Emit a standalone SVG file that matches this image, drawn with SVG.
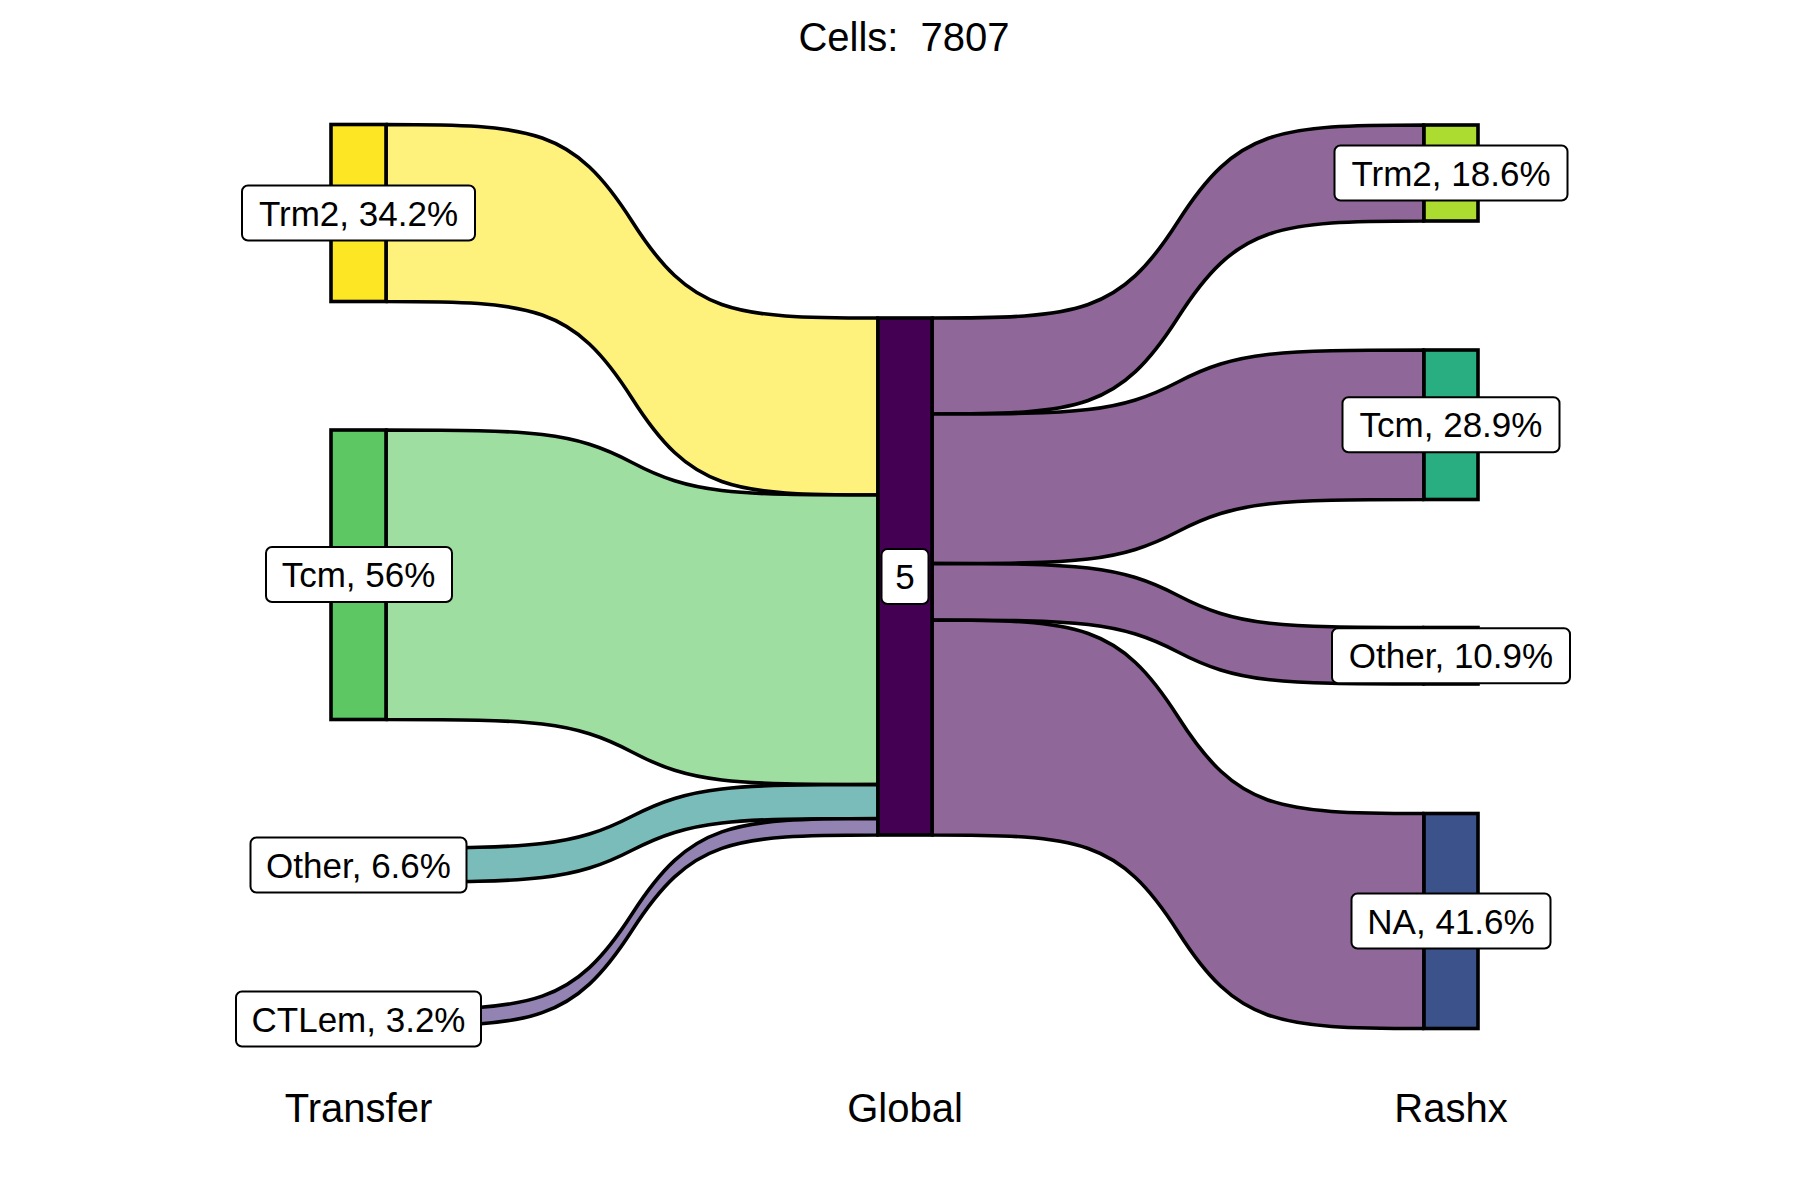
<svg xmlns="http://www.w3.org/2000/svg" width="1800" height="1200" viewBox="0 0 1800 1200">
<style>
text{font-family:"Liberation Sans",Arial,sans-serif;fill:#000}
.title{font-size:40px;text-anchor:middle;white-space:pre}
.axis{font-size:40px;text-anchor:middle}
.flow{stroke:#000;stroke-width:3.6;stroke-linejoin:round}
.node{stroke:#000;stroke-width:3.6}
.lbox{fill:#fff;stroke:#000;stroke-width:2}
.ltxt{font-size:35px;text-anchor:middle}
</style>
<rect width="1800" height="1200" fill="#fff"/>
<text class="title" x="904" y="51" xml:space="preserve">Cells:  7807</text>
<g id="connectors">
<path class="flow" fill="#FEF17C" d="M386,124.5 C533.6,124.5 572.96,128.37 632,221.25 C691.04,314.13 730.4,318 878,318 L878,495 C730.4,495 691.04,491.13 632,398.25 C572.96,305.37 533.6,301.5 386,301.5 Z"/>
<path class="flow" fill="#9EDEA1" d="M386,430 C533.6,430 572.96,431.3 632,462.5 C691.04,493.7 730.4,495 878,495 L878,784.5 C730.4,784.5 691.04,783.2 632,752 C572.96,720.8 533.6,719.5 386,719.5 Z"/>
<path class="flow" fill="#7ABCBA" d="M386,848 C533.6,848 572.96,846.73 632,816.25 C691.04,785.77 730.4,784.5 878,784.5 L878,818.5 C730.4,818.5 691.04,819.77 632,850.25 C572.96,880.73 533.6,882 386,882 Z"/>
<path class="flow" fill="#9283B2" d="M386,1009.5 C533.6,1009.5 572.96,1005.68 632,914 C691.04,822.32 730.4,818.5 878,818.5 L878,835 C730.4,835 691.04,838.82 632,930.5 C572.96,1022.18 533.6,1026 386,1026 Z"/>
<path class="flow" fill="#8F6798" d="M932,318 C1079.6,318 1118.96,314.14 1178,221.5 C1237.04,128.86 1276.4,125 1424,125 L1424,221 C1276.4,221 1237.04,224.86 1178,317.5 C1118.96,410.14 1079.6,414 932,414 Z"/>
<path class="flow" fill="#8F6798" d="M932,414 C1079.6,414 1118.96,412.72 1178,382 C1237.04,351.28 1276.4,350 1424,350 L1424,499.5 C1276.4,499.5 1237.04,500.78 1178,531.5 C1118.96,562.22 1079.6,563.5 932,563.5 Z"/>
<path class="flow" fill="#8F6798" d="M932,563.5 C1079.6,563.5 1118.96,564.78 1178,595.5 C1237.04,626.22 1276.4,627.5 1424,627.5 L1424,684 C1276.4,684 1237.04,682.72 1178,652 C1118.96,621.28 1079.6,620 932,620 Z"/>
<path class="flow" fill="#8F6798" d="M932,620 C1079.6,620 1118.96,623.87 1178,716.75 C1237.04,809.63 1276.4,813.5 1424,813.5 L1424,1028.5 C1276.4,1028.5 1237.04,1024.63 1178,931.75 C1118.96,838.87 1079.6,835 932,835 Z"/>
</g>
<g id="transfer-trm2">
<rect class="node" x="331" y="124.5" width="55" height="177" fill="#FDE725"/>
<rect class="lbox" x="242" y="185.5" width="233" height="55" rx="6"/>
<text class="ltxt" x="358.5" y="225.5">Trm2, 34.2%</text>
</g>
<g id="transfer-tcm">
<rect class="node" x="331" y="430" width="55" height="289.5" fill="#5DC863"/>
<rect class="lbox" x="266" y="547" width="186" height="55" rx="6"/>
<text class="ltxt" x="358.5" y="587">Tcm, 56%</text>
</g>
<g id="transfer-other">
<rect class="node" x="331" y="848" width="55" height="34" fill="#21908C"/>
<rect class="lbox" x="250.5" y="837.5" width="216" height="55" rx="6"/>
<text class="ltxt" x="358.5" y="877.5">Other, 6.6%</text>
</g>
<g id="transfer-ctlem">
<rect class="node" x="331" y="1009.5" width="55" height="16.5" fill="#472D7B"/>
<rect class="lbox" x="236" y="991.5" width="245" height="55" rx="6"/>
<text class="ltxt" x="358.5" y="1031.5">CTLem, 3.2%</text>
</g>
<g id="global-5">
<rect class="node" x="878" y="318" width="54" height="517" fill="#440154"/>
<rect class="lbox" x="881.5" y="549" width="47" height="55" rx="6"/>
<text class="ltxt" x="905" y="589">5</text>
</g>
<g id="rashx-trm2">
<rect class="node" x="1424" y="125" width="54" height="96" fill="#ADDC30"/>
<rect class="lbox" x="1334.5" y="145.5" width="233" height="55" rx="6"/>
<text class="ltxt" x="1451" y="185.5">Trm2, 18.6%</text>
</g>
<g id="rashx-tcm">
<rect class="node" x="1424" y="350" width="54" height="149.5" fill="#28AE80"/>
<rect class="lbox" x="1342.5" y="397.25" width="217" height="55" rx="6"/>
<text class="ltxt" x="1451" y="437.25">Tcm, 28.9%</text>
</g>
<g id="rashx-other">
<rect class="node" x="1424" y="627.5" width="54" height="56.5" fill="#2C728E"/>
<rect class="lbox" x="1332" y="628.25" width="238" height="55" rx="6"/>
<text class="ltxt" x="1451" y="668.25">Other, 10.9%</text>
</g>
<g id="rashx-na">
<rect class="node" x="1424" y="813.5" width="54" height="215" fill="#3B528B"/>
<rect class="lbox" x="1351.5" y="893.5" width="199" height="55" rx="6"/>
<text class="ltxt" x="1451" y="933.5">NA, 41.6%</text>
</g>
<g id="axis-labels">
<text class="axis" x="358.5" y="1122">Transfer</text>
<text class="axis" x="905" y="1122">Global</text>
<text class="axis" x="1451" y="1122">Rashx</text>
</g>
</svg>
